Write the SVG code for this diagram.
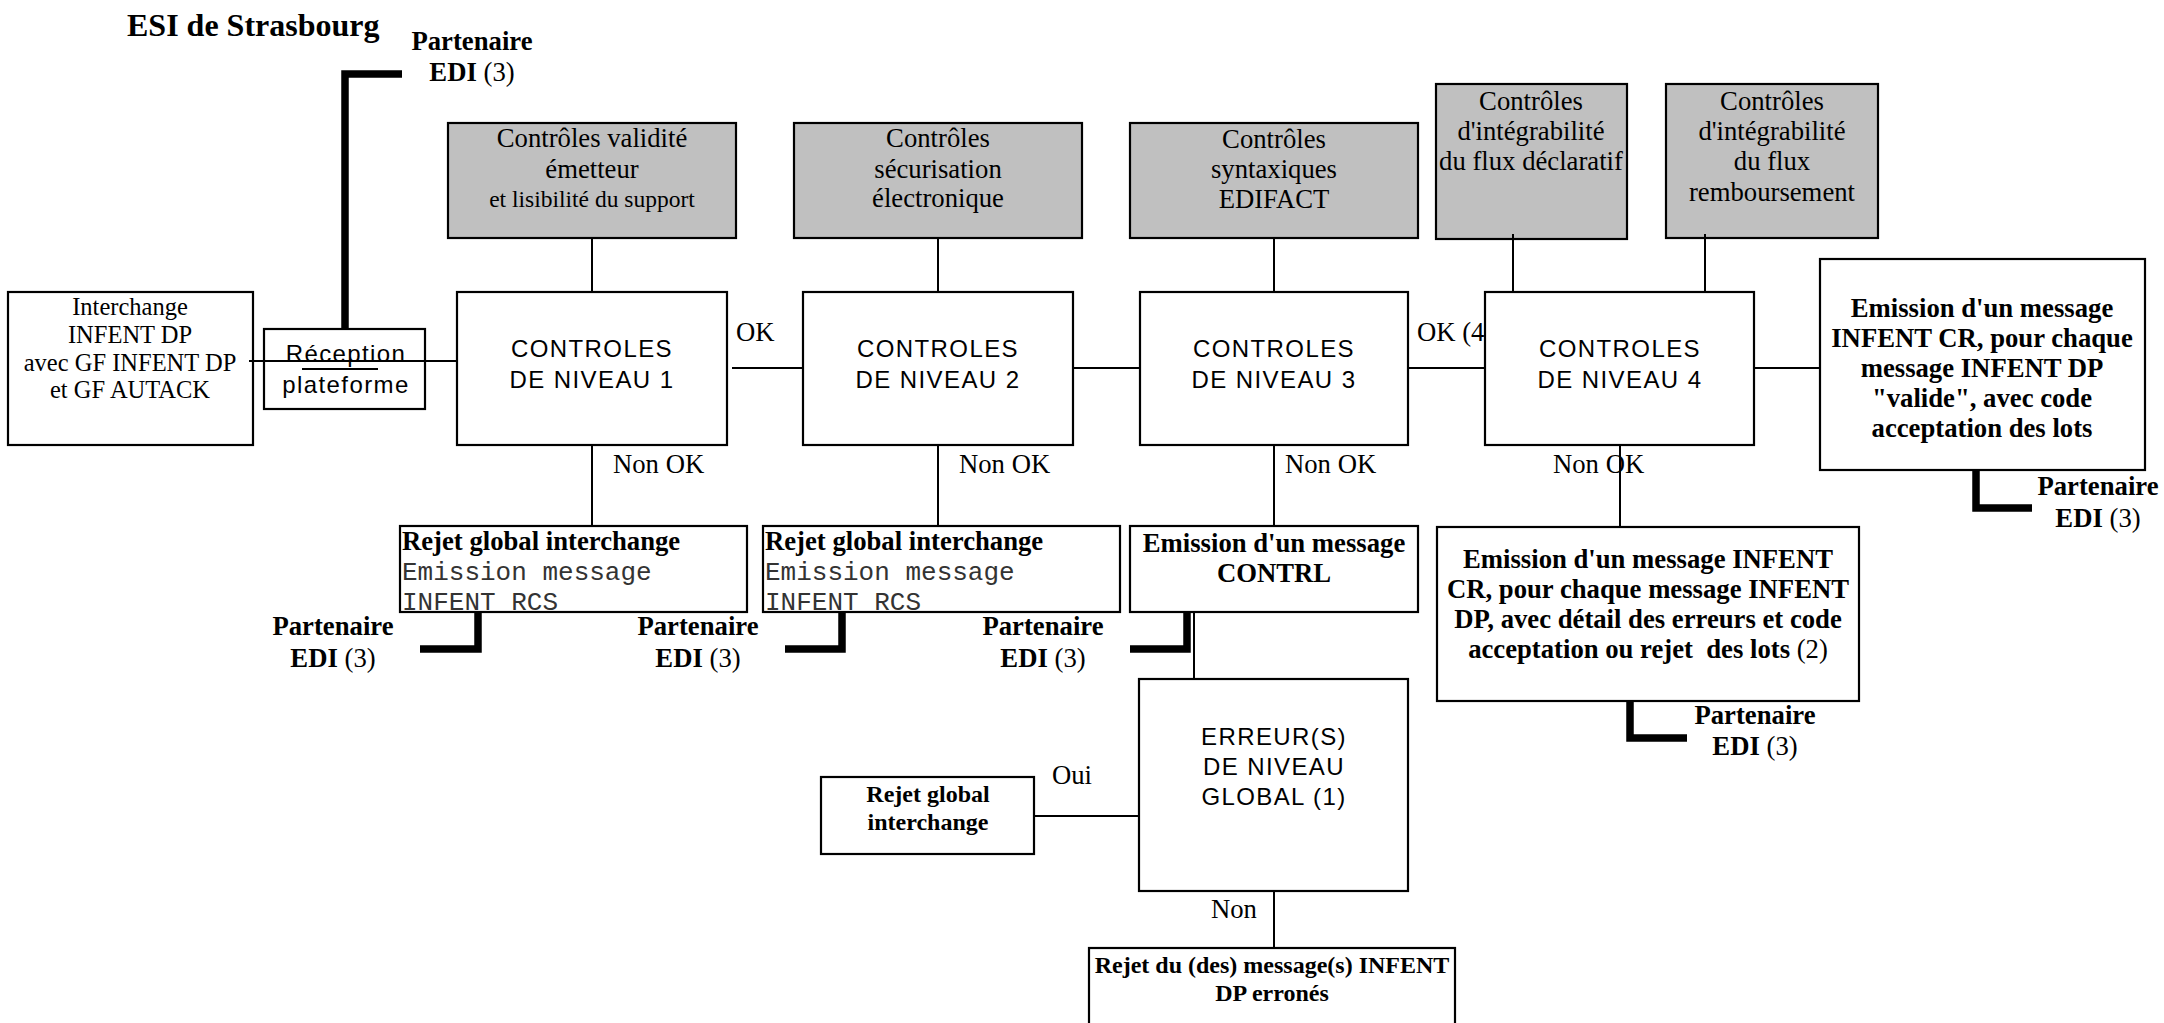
<svg xmlns="http://www.w3.org/2000/svg" width="2164" height="1023" viewBox="0 0 2164 1023">
<defs>
<style>
.box{fill:#fff;stroke:#000;stroke-width:2.2}
.gray{fill:#c0c0c0;stroke:#000;stroke-width:2.2}
.ln{fill:none;stroke:#000;stroke-width:2}
.thick{fill:none;stroke:#000;stroke-width:7.5;stroke-linejoin:miter}
.t{font-family:"Liberation Serif","Times New Roman",serif;font-size:26.7px;fill:#000}
.b{font-weight:bold}
.n{font-weight:normal}
.c{text-anchor:middle}
.s{font-family:"Liberation Sans",Arial,sans-serif;font-size:24px;letter-spacing:1.4px;fill:#000}
.m{font-family:"Liberation Mono","Courier New",monospace;font-size:26px;fill:#333}
</style>
</defs>
<rect width="2164" height="1023" fill="#fff"/>

<text class="t b" x="127" y="36" style="font-size:32px">ESI de Strasbourg</text>

<g id="interchange">
<rect class="box" x="8" y="292" width="245" height="153"/>
<text class="t c" style="font-size:24.5px" x="130"><tspan x="130" y="315">Interchange</tspan><tspan x="130" y="343">INFENT DP</tspan><tspan x="130" y="371">avec GF INFENT DP</tspan><tspan x="130" y="398">et GF AUTACK</tspan></text>
</g>

<g id="reception">
<rect class="box" x="264" y="329" width="161" height="80"/>
<text class="s c" x="346"><tspan x="346" y="362">Réception</tspan><tspan x="346" y="393">plateforme</tspan></text>
</g>

<g id="ctrl1-checks">
<rect class="gray" x="448" y="123" width="288" height="115"/>
<text class="t c" x="592"><tspan x="592" y="147">Contrôles validité</tspan><tspan x="592" y="178">émetteur</tspan><tspan x="592" y="207" style="font-size:23.5px">et lisibilité du support</tspan></text>
</g>
<g id="ctrl2-checks">
<rect class="gray" x="794" y="123" width="288" height="115"/>
<text class="t c" x="938"><tspan x="938" y="147">Contrôles</tspan><tspan x="938" y="178">sécurisation</tspan><tspan x="938" y="207">électronique</tspan></text>
</g>
<g id="ctrl3-checks">
<rect class="gray" x="1130" y="123" width="288" height="115"/>
<text class="t c" x="1274"><tspan x="1274" y="148">Contrôles</tspan><tspan x="1274" y="178">syntaxiques</tspan><tspan x="1274" y="208">EDIFACT</tspan></text>
</g>
<g id="ctrl4-checks-a">
<rect class="gray" x="1436" y="84" width="191" height="155"/>
<text class="t c" x="1531"><tspan x="1531" y="110">Contrôles</tspan><tspan x="1531" y="140">d'intégrabilité</tspan><tspan x="1531" y="170">du flux déclaratif</tspan></text>
</g>
<g id="ctrl4-checks-b">
<rect class="gray" x="1666" y="84" width="212" height="154"/>
<text class="t c" x="1772"><tspan x="1772" y="110">Contrôles</tspan><tspan x="1772" y="140">d'intégrabilité</tspan><tspan x="1772" y="170">du flux</tspan><tspan x="1772" y="201">remboursement</tspan></text>
</g>

<g id="ctrl1">
<rect class="box" x="457" y="292" width="270" height="153"/>
<text class="s c" x="592"><tspan x="592" y="357">CONTROLES</tspan><tspan x="592" y="388">DE NIVEAU 1</tspan></text>
</g>
<g id="ctrl2">
<rect class="box" x="803" y="292" width="270" height="153"/>
<text class="s c" x="938"><tspan x="938" y="357">CONTROLES</tspan><tspan x="938" y="388">DE NIVEAU 2</tspan></text>
</g>
<g id="ctrl3">
<rect class="box" x="1140" y="292" width="268" height="153"/>
<text class="s c" x="1274"><tspan x="1274" y="357">CONTROLES</tspan><tspan x="1274" y="388">DE NIVEAU 3</tspan></text>
</g>
<g id="ctrl4">
<rect class="box" x="1485" y="292" width="269" height="153"/>
<text class="s c" x="1620"><tspan x="1620" y="357">CONTROLES</tspan><tspan x="1620" y="388">DE NIVEAU 4</tspan></text>
</g>

<g id="cr-valid">
<rect class="box" x="1820" y="259" width="325" height="211"/>
<text class="t b c" x="1982"><tspan x="1982" y="317">Emission d'un message</tspan><tspan x="1982" y="347">INFENT CR, pour chaque</tspan><tspan x="1982" y="377">message INFENT DP</tspan><tspan x="1982" y="407">"valide", avec code</tspan><tspan x="1982" y="437">acceptation des lots</tspan></text>
</g>

<g id="rejet1">
<rect class="box" x="400" y="526" width="347" height="86"/>
<text class="t b" x="402" y="550">Rejet global interchange</text>
<text class="m" x="402" y="580">Emission message</text>
<text class="m" x="402" y="610">INFENT RCS</text>
</g>
<g id="rejet2">
<rect class="box" x="763" y="526" width="357" height="86"/>
<text class="t b" x="765" y="550">Rejet global interchange</text>
<text class="m" x="765" y="580">Emission message</text>
<text class="m" x="765" y="610">INFENT RCS</text>
</g>
<g id="contrl">
<rect class="box" x="1130" y="526" width="288" height="86"/>
<text class="t b c" x="1274"><tspan x="1274" y="552">Emission d'un message</tspan><tspan x="1274" y="582">CONTRL</tspan></text>
</g>
<g id="cr-errors">
<rect class="box" x="1437" y="527" width="422" height="174"/>
<text class="t b c" x="1648" style="white-space:pre"><tspan x="1648" y="568">Emission d'un message INFENT</tspan><tspan x="1648" y="598">CR, pour chaque message INFENT</tspan><tspan x="1648" y="628">DP, avec détail des erreurs et code</tspan><tspan x="1648" y="658">acceptation ou rejet  des lots<tspan class="n"> (2)</tspan></tspan></text>
</g>

<g id="erreur">
<rect class="box" x="1139" y="679" width="269" height="212"/>
<text class="s c" x="1274"><tspan x="1274" y="745">ERREUR(S)</tspan><tspan x="1274" y="775">DE NIVEAU</tspan><tspan x="1274" y="805">GLOBAL (1)</tspan></text>
</g>
<g id="rejet-global">
<rect class="box" x="821" y="777" width="213" height="77"/>
<text class="t b c" style="font-size:24px" x="928"><tspan x="928" y="802">Rejet global</tspan><tspan x="928" y="830">interchange</tspan></text>
</g>
<g id="rejet-messages">
<rect class="box" x="1089" y="948" width="366" height="90"/>
<text class="t b c" style="font-size:24px" x="1272"><tspan x="1272" y="973">Rejet du (des) message(s) INFENT</tspan><tspan x="1272" y="1001">DP erronés</tspan></text>
</g>

<g id="partenaires">
<text class="t b c" x="472"><tspan x="472" y="50">Partenaire</tspan><tspan x="472" y="81">EDI<tspan class="n"> (3)</tspan></tspan></text>
<text class="t b c" x="333"><tspan x="333" y="635">Partenaire</tspan><tspan x="333" y="667">EDI<tspan class="n"> (3)</tspan></tspan></text>
<text class="t b c" x="698"><tspan x="698" y="635">Partenaire</tspan><tspan x="698" y="667">EDI<tspan class="n"> (3)</tspan></tspan></text>
<text class="t b c" x="1043"><tspan x="1043" y="635">Partenaire</tspan><tspan x="1043" y="667">EDI<tspan class="n"> (3)</tspan></tspan></text>
<text class="t b c" x="2098"><tspan x="2098" y="495">Partenaire</tspan><tspan x="2098" y="527">EDI<tspan class="n"> (3)</tspan></tspan></text>
<text class="t b c" x="1755"><tspan x="1755" y="724">Partenaire</tspan><tspan x="1755" y="755">EDI<tspan class="n"> (3)</tspan></tspan></text>
</g>

<g id="connectors">
<path class="ln" d="M249,361 H457"/>
<path class="ln" d="M302,369 H378" stroke-width="1.6"/>
<path class="ln" d="M732,368 H803"/>
<path class="ln" d="M1073,368 H1140"/>
<path class="ln" d="M1408,368 H1485"/>
<path class="ln" d="M1754,368 H1820"/>
<path class="ln" d="M592,238 V292"/>
<path class="ln" d="M938,238 V292"/>
<path class="ln" d="M1274,238 V292"/>
<path class="ln" d="M1513,234 V292"/>
<path class="ln" d="M1705,234 V292"/>
<path class="ln" d="M592,445 V526"/>
<path class="ln" d="M938,445 V526"/>
<path class="ln" d="M1274,445 V526"/>
<path class="ln" d="M1620,445 V527"/>
<path class="ln" d="M1194,612 V679"/>
<path class="ln" d="M1034,816 H1139"/>
<path class="ln" d="M1274,891 V948"/>
<path class="thick" d="M345,329 V74 H402"/>
<path class="thick" d="M478,612 V649 H420"/>
<path class="thick" d="M842,612 V649 H785"/>
<path class="thick" d="M1187,612 V649 H1130"/>
<path class="thick" d="M1976,470 V508 H2032"/>
<path class="thick" d="M1630,701 V738 H1687"/>
<text class="t" x="736" y="341">OK</text>
<text class="t" x="1417" y="341">OK (4</text>
<text class="t" x="613" y="473">Non OK</text>
<text class="t" x="959" y="473">Non OK</text>
<text class="t" x="1285" y="473">Non OK</text>
<text class="t" x="1553" y="473">Non OK</text>
<text class="t" x="1052" y="784">Oui</text>
<text class="t" x="1211" y="918">Non</text>
</g>
</svg>
